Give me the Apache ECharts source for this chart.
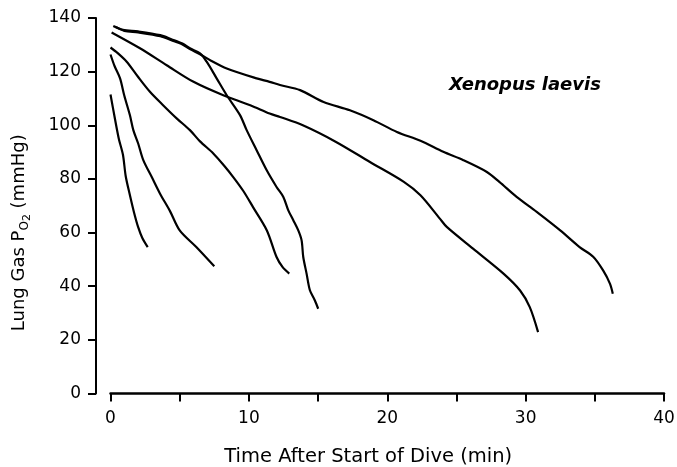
<!DOCTYPE html>
<html>
<head>
<meta charset="utf-8">
<script src="https://cdn.jsdelivr.net/npm/echarts@6/dist/echarts.min.js"></script>
<style>
html,body{margin:0;padding:0;background:#fff;}
#chart{width:677px;height:467px;}
</style>
</head>
<body>
<div id="chart"></div>
<script>
// Time after start of dive (min) and lung gas PO2 (mmHg) for each dive trace
const dive1Time = [0, 0.3, 0.6, 0.9, 1.1, 1.4, 1.7, 2.0, 2.3, 2.69];
const dive1PO2  = [111.5, 103, 95, 89, 81, 74, 67.5, 62, 58, 54.6];

const dive2Time = [0, 0.3, 0.69, 1.0, 1.4, 1.65, 2.0, 2.37, 3.0, 3.58, 4.3, 5.0, 6.2, 7.5];
const dive2PO2  = [126.4, 122, 117.5, 111, 103.8, 98.2, 93.2, 87, 80.5, 74.5, 68, 60.8, 54.6, 47.4];

const dive3Time = [0, 0.5, 1.17, 2.0, 2.85, 3.8, 4.8, 5.74, 6.47, 7.43, 8.2, 8.87, 9.6, 10.3, 11.3, 12.0, 12.44, 12.92];
const dive3PO2  = [129, 127, 123.7, 118, 112.5, 107.5, 102.5, 98.2, 94, 89.5, 85, 80.7, 75.5, 69.5, 60.8, 50.9, 47.1, 44.7];

const dive4Time = [0.2, 0.9, 2.0, 3.6, 4.4, 5.2, 5.74, 6.47, 6.95, 7.67, 8.4, 9.36, 9.84, 10.56, 11.29, 12.0, 12.49, 12.85, 13.21, 13.57, 13.81, 13.93, 14.17, 14.41, 14.77, 15.01];
const dive4PO2  = [137, 135.6, 135, 133.6, 132.1, 130.5, 128.7, 126.8, 123.7, 117.5, 111.2, 103.8, 98.2, 90.7, 83.2, 77, 73.3, 68.3, 64.6, 60.8, 57.1, 50.9, 44.7, 38.5, 34.7, 31.6];

const dive5Time = [0.08, 2.13, 4.06, 6.0, 8.15, 10.1, 11.5, 12.25, 13.9, 16.3, 18.75, 21.2, 22.4, 23.8, 24.3, 26.2, 28.4, 29.6, 30.3, 30.9];
const dive5PO2  = [134.6, 128.7, 122.4, 116.2, 111.2, 107.5, 104.4, 103.1, 100, 93.8, 86.3, 78.9, 73.9, 65.2, 62.1, 54, 44.7, 38.4, 32.2, 22.9];

const dive6Time = [0.4, 1.0, 2.0, 3.6, 4.4, 5.2, 5.74, 6.47, 7.3, 8.4, 10.56, 11.5, 12.25, 13.7, 15.4, 17.3, 19.0, 20.7, 22.4, 24.05, 25.5, 27.2, 28.1, 29.35, 30.8, 32.5, 33.9, 34.9, 35.6, 36.1, 36.3];
const dive6PO2  = [136.6, 135.2, 134.6, 133.2, 131.7, 130.1, 128.4, 126.5, 124, 121.2, 117.5, 116.2, 115, 113.1, 108.7, 105.6, 101.9, 97.5, 94.2, 90.1, 87, 82.6, 78.9, 73.3, 67.7, 60.8, 54.6, 50.9, 45.9, 40.9, 37.2];

const xTicks = { min: 0, max: 40, interval: 10 };
const yTicks = { min: 0, max: 140, interval: 20 };

const dives = [
  [dive1Time, dive1PO2], [dive2Time, dive2PO2], [dive3Time, dive3PO2],
  [dive4Time, dive4PO2], [dive5Time, dive5PO2], [dive6Time, dive6PO2]
];

const FONT = 'DejaVu Sans';
const chart = echarts.init(document.getElementById('chart'), null, { renderer: 'canvas' });

chart.setOption({
  backgroundColor: '#fff',
  animation: false,
  title: {
    text: 'Xenopus laevis',
    left: 449,
    top: 76,
    padding: 0,
    textStyle: { fontFamily: FONT, fontSize: 18, fontStyle: 'italic', fontWeight: 'bold', color: '#000' }
  },
  grid: { left: 110.5, right: 13, top: 18, bottom: 73.5, outerBoundsMode: 'none', containLabel: false },
  xAxis: {
    type: 'value',
    min: xTicks.min, max: xTicks.max, interval: xTicks.interval,
    name: 'Time After Start of Dive (min)',
    nameLocation: 'middle',
    nameGap: 53,
    nameMoveOverlap: false,
    nameTextStyle: { fontFamily: FONT, fontSize: 19.5, color: '#000', padding: [0, 38, 0, 0] },
    axisLine: { show: true, onZero: false, lineStyle: { color: '#000', width: 2.5 } },
    axisTick: { show: true, length: 8, lineStyle: { color: '#000', width: 2 } },
    minorTick: { show: true, splitNumber: 2, length: 8, lineStyle: { color: '#000', width: 2 } },
    axisLabel: { fontFamily: FONT, fontSize: 17, color: '#000', margin: 17 },
    splitLine: { show: false },
    minorSplitLine: { show: false }
  },
  yAxis: {
    type: 'value',
    min: yTicks.min, max: yTicks.max, interval: yTicks.interval,
    offset: 14.5,
    name: 'Lung Gas P{o|O}{t|2} (mmHg)',
    nameLocation: 'middle',
    nameRotate: 90,
    nameGap: 63,
    nameMoveOverlap: false,
    nameTextStyle: {
      fontFamily: FONT, fontSize: 18, color: '#000', padding: [0, 54, 0, 0],
      rich: {
        o: { fontFamily: FONT, fontSize: 12, color: '#000', padding: [10, 0, 0, 0] },
        t: { fontFamily: FONT, fontSize: 11, color: '#000', padding: [16, 0, 0, 0] }
      }
    },
    axisLine: { show: true, onZero: false, lineStyle: { color: '#000', width: 2 } },
    axisTick: { show: true, length: 8, lineStyle: { color: '#000', width: 2 } },
    axisLabel: { fontFamily: FONT, fontSize: 17, color: '#000', margin: 15 },
    splitLine: { show: false }
  },
  series: dives.map(function (d, i) {
    return {
      name: 'dive' + (i + 1),
      type: 'line',
      data: d[0].map(function (t, j) { return [t, d[1][j]]; }),
      showSymbol: false,
      symbol: 'none',
      smooth: 0.3,
      lineStyle: { color: '#000', width: 2.2 },
      emphasis: { disabled: true },
      z: 3
    };
  })
});
</script>
</body>
</html>
